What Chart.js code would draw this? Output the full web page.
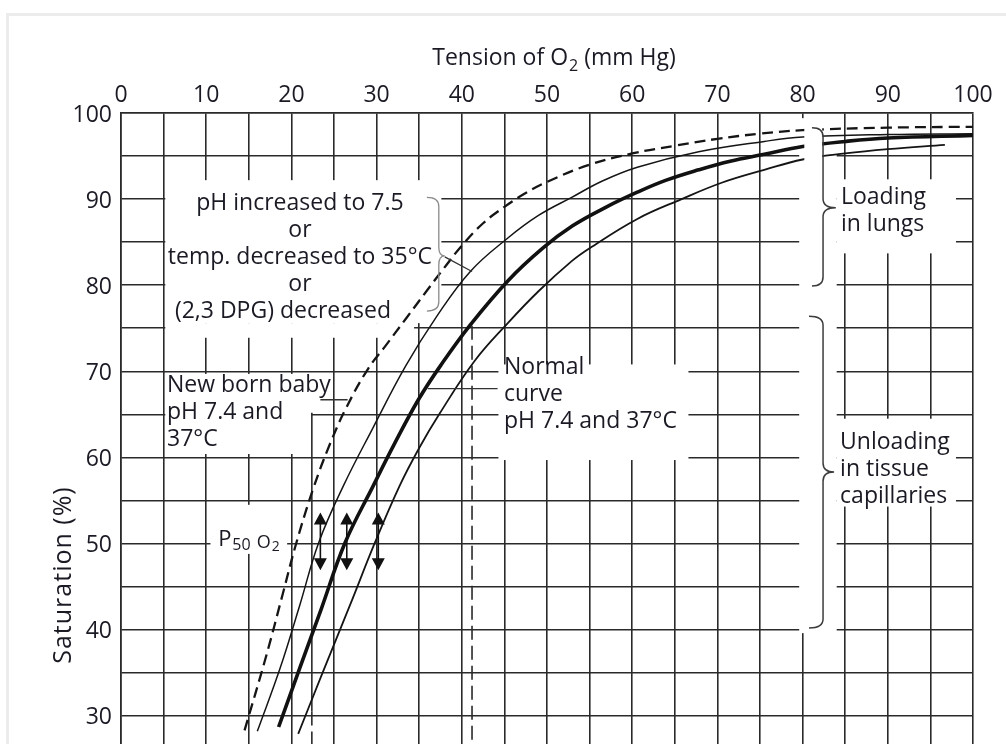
<!DOCTYPE html>
<html>
<head>
<meta charset="utf-8">
<script src="https://cdn.jsdelivr.net/npm/chart.js@4.4.1/dist/chart.umd.min.js"></script>
<style>
  html, body { margin: 0; padding: 0; background: #fff; overflow: hidden; }
  #page { position: relative; width: 1006px; height: 744px; overflow: hidden; }
  #frame { position: absolute; left: 6px; top: 13px; width: 1100px; height: 1100px; border: 3px solid #ececec; }
  #wrap { position: absolute; left: 0; top: 0; width: 1006px; height: 1040px; }
</style>
</head>
<body>
<div id="page">
  <div id="frame"></div>
  <div id="wrap"><canvas id="chart"></canvas></div>
</div>
<script>
// O2 tension (mm Hg) and saturation (%)
const newbornX = [14.5, 17, 19, 20.5, 22.5, 24.5, 26.5, 29, 31, 33.5, 36, 38, 40, 42.5, 45, 47.5, 50, 55, 60, 65, 70, 75, 80, 90, 100];
const newbornY = [28.3, 36.8, 44.2, 49.8, 56.2, 61.5, 65.9, 70.3, 72.9, 76.2, 79.5, 82.1, 84.6, 87.2, 89.1, 90.7, 92.0, 94.0, 95.3, 96.2, 97.0, 97.6, 98.0, 98.3, 98.4];

const leftShiftX = [16, 18.7, 21, 23.2, 26.1, 29.5, 33.4, 37, 41, 45.3, 49, 52.9, 56.5, 60.6, 67.8, 75.5, 80, 90, 100];
const leftShiftY = [28.2, 35.6, 42.9, 50.1, 56.7, 63.3, 70.6, 76.3, 81.6, 85.4, 88.1, 90.2, 92.1, 93.7, 95.5, 96.7, 97.2, 97.5, 97.6];

const normalX = [18.5, 21, 23.5, 26.3, 29.6, 32, 34.9, 37.6, 41, 45.4, 49.5, 53, 57, 60.6, 64, 67.8, 71.5, 75.5, 80, 85, 90, 100];
const normalY = [28.7, 35.6, 42.4, 50.1, 56.7, 61.4, 66.7, 70.8, 75.4, 80.5, 84.3, 86.9, 89.1, 90.8, 92.2, 93.4, 94.4, 95.2, 96.1, 96.7, 97.1, 97.4];

const rightShiftX = [20.8, 23.5, 26.9, 29.8, 32.7, 35, 37.4, 41.5, 45.4, 49, 52.9, 55, 60.6, 65.8, 70.5, 75.5, 80, 85, 90, 96.7];
const rightShiftY = [27.9, 34.6, 42.9, 50.1, 56.7, 61.1, 65.1, 71.2, 75.6, 79.3, 82.8, 84.3, 87.7, 90.0, 91.9, 93.4, 94.6, 95.3, 95.8, 96.3];

// P50 read from the double arrows
const p50 = [23.4, 26.5, 30.2];

const xTicks = [0, 10, 20, 30, 40, 50, 60, 70, 80, 90, 100];
const yTicks = [100, 90, 80, 70, 60, 50, 40, 30, 20, 10, 0];

const ink = '#1a1a24';
const gridInk = '#2a2a2a';
const family = '"Open Sans", "Noto Sans", sans-serif';

const pts = (xs, ys) => xs.map((v, i) => ({ x: v, y: ys[i] }));

// white areas that break the grid around labels and braces: [x0, x1, yTop, yBottom]
const blanks = [
  [5.2, 37.6, 92.2, 75.6],
  [5.2, 34.4, 75.6, 73.9],
  [5.2, 22.3, 69.7, 60.4],
  [22.3, 24.7, 69.7, 65.4],
  [10.5, 19.5, 54.5, 48.8],
  [44.3, 66.6, 70.8, 59.7],
  [79.6, 84.0, 99.4, 39.6],
  [84.0, 98.0, 92.3, 83.7],
  [84.0, 98.0, 64.5, 54.3]
];

const notes = [
  { x: 21.0, y: 88.7, align: 'center', lines: ['pH increased to 7.5', 'or', 'temp. decreased to 35°C', 'or', '(2,3 DPG) decreased'], shift: [0, 0, 0, 0, -17] },
  { x: 5.4, y: 67.6, align: 'left', lines: ['New born baby', 'pH 7.4 and', '37°C'] },
  { x: 44.95, y: 69.65, align: 'left', lines: ['Normal', 'curve', 'pH 7.4 and 37°C'] },
  { x: 84.5, y: 89.4, align: 'left', lines: ['Loading', 'in lungs'] },
  { x: 84.4, y: 61.0, align: 'left', lines: ['Unloading', 'in tissue', 'capillaries'] }
];

function brace(ctx, xl, xs, xt, yt, ym, yb) {
  const r = 9;
  ctx.beginPath();
  ctx.moveTo(xl, yt);
  ctx.quadraticCurveTo(xs, yt, xs, yt + r);
  ctx.lineTo(xs, ym - r);
  ctx.quadraticCurveTo(xs, ym, xt, ym);
  ctx.quadraticCurveTo(xs, ym, xs, ym + r);
  ctx.lineTo(xs, yb - r);
  ctx.quadraticCurveTo(xs, yb, xl, yb);
  ctx.stroke();
}

const annotations = {
  id: 'annotations',
  beforeDatasetsDraw(chart) {
    const { ctx, scales: { x, y } } = chart;
    const X = v => x.getPixelForValue(v), Y = v => y.getPixelForValue(v);
    ctx.save();
    ctx.fillStyle = '#fff';
    blanks.forEach(b => ctx.fillRect(X(b[0]), Y(b[2]), X(b[1]) - X(b[0]), Y(b[3]) - Y(b[2])));

    ctx.strokeStyle = gridInk;
    ctx.lineWidth = 1.6;
    // vertical line under the left P50, solid then dashed
    ctx.beginPath();
    ctx.moveTo(X(22.4), Y(65.2));
    ctx.lineTo(X(22.4), Y(30.5));
    ctx.stroke();
    ctx.setLineDash([14, 6]);
    ctx.beginPath();
    ctx.moveTo(X(22.4), Y(30.5));
    ctx.lineTo(X(22.4), Y(-5));
    ctx.moveTo(X(41.2), Y(75.3));
    ctx.lineTo(X(41.2), Y(-5));
    ctx.stroke();
    ctx.restore();
  },
  afterDatasetsDraw(chart) {
    const { ctx, chartArea, scales: { x, y } } = chart;
    const X = v => x.getPixelForValue(v), Y = v => y.getPixelForValue(v);
    ctx.save();

    // curves are broken where the brace sits
    ctx.fillStyle = '#fff';
    ctx.fillRect(X(80.2), Y(99.6), X(82.3) - X(80.2), Y(93.3) - Y(99.6));

    // braces
    ctx.strokeStyle = '#3c3c3c';
    ctx.lineWidth = 1.5;
    brace(ctx, X(81.1), X(82.4), X(83.9), Y(98.3), Y(89.0), Y(79.9));
    brace(ctx, X(80.75), X(82.4), X(83.7), Y(76.4), Y(58.3), Y(40.2));
    ctx.strokeStyle = '#8a8a8a';
    ctx.lineWidth = 1.3;
    brace(ctx, X(35.9), X(37.3), X(38.0), Y(90.2), Y(83.4), Y(77.0));

    // leader lines
    ctx.strokeStyle = '#333';
    ctx.lineWidth = 1.3;
    ctx.beginPath();
    ctx.moveTo(X(38.0), Y(83.3)); ctx.lineTo(X(41.2), Y(81.6));
    ctx.moveTo(X(23.4), Y(66.7)); ctx.lineTo(X(26.6), Y(66.7));
    ctx.moveTo(X(36.0), Y(68.0)); ctx.lineTo(X(44.2), Y(68.0));
    ctx.stroke();

    // P50 double arrows
    ctx.strokeStyle = '#111';
    ctx.fillStyle = '#111';
    ctx.lineWidth = 1.6;
    p50.forEach(v => {
      const px = X(v), top = Y(53.6), bot = Y(46.9);
      ctx.beginPath();
      ctx.moveTo(px, top + 8); ctx.lineTo(px, bot - 8);
      ctx.stroke();
      ctx.beginPath();
      ctx.moveTo(px, top); ctx.lineTo(px - 6.5, top + 12); ctx.lineTo(px + 6.5, top + 12); ctx.closePath();
      ctx.moveTo(px, bot); ctx.lineTo(px - 6.5, bot - 12); ctx.lineTo(px + 6.5, bot - 12); ctx.closePath();
      ctx.fill();
    });

    // text blocks
    ctx.fillStyle = ink;
    ctx.textBaseline = 'alphabetic';
    ctx.font = '23px ' + family;
    notes.forEach(n => {
      ctx.textAlign = n.align;
      n.lines.forEach((t, i) => {
        const dx = n.shift ? n.shift[i] : 0;
        ctx.fillText(t, X(n.x) + dx, Y(n.y) + i * 27);
      });
    });

    // P50 O2 label
    ctx.textAlign = 'left';
    let lx = X(11.4);
    const ly = Y(49.7);
    const part = (t, size, dy, gap) => {
      ctx.font = size + 'px ' + family;
      ctx.fillText(t, lx, ly + dy);
      lx += ctx.measureText(t).width + gap;
    };
    part('P', 22, 0, 1);
    part('50', 16, 4, 6);
    part('O', 18, 2, 1);
    part('2', 14, 5, 0);

    // top axis title with subscript
    const tY = chartArea.top - 48;
    ctx.font = '23px ' + family;
    const a = 'Tension of O', c = ' (mm Hg)';
    const wa = ctx.measureText(a).width, wc = ctx.measureText(c).width;
    ctx.font = '16px ' + family;
    const wb = ctx.measureText('2').width + 1;
    let tx = 554 - (wa + wb + wc) / 2;
    ctx.font = '23px ' + family;
    ctx.fillText(a, tx, tY);
    ctx.font = '16px ' + family;
    ctx.fillText('2', tx + wa + 1, tY + 6);
    ctx.font = '23px ' + family;
    ctx.fillText(c, tx + wa + wb, tY);

    // left axis title
    ctx.translate(64, 575);
    ctx.rotate(-Math.PI / 2);
    ctx.font = '25px ' + family;
    ctx.letterSpacing = '1px';
    ctx.textAlign = 'center';
    ctx.textBaseline = 'middle';
    ctx.fillText('Saturation (%)', 0, 0);
    ctx.restore();
  }
};

const ctx = document.getElementById('chart').getContext('2d');
new Chart(ctx, {
  type: 'line',
  data: {
    datasets: [
      { label: 'New born baby', data: pts(newbornX, newbornY), borderColor: '#151515', borderWidth: 2.3, borderDash: [11, 6] },
      { label: 'pH 7.5 / 35°C / low 2,3 DPG', data: pts(leftShiftX, leftShiftY), borderColor: '#151515', borderWidth: 1.5 },
      { label: 'Normal pH 7.4 and 37°C', data: pts(normalX, normalY), borderColor: '#111', borderWidth: 3.6 },
      { label: 'Right shifted', data: pts(rightShiftX, rightShiftY), borderColor: '#151515', borderWidth: 1.8 }
    ].map(d => Object.assign(d, { pointRadius: 0, fill: false, tension: 0.4 }))
  },
  options: {
    responsive: true,
    maintainAspectRatio: false,
    animation: false,
    layout: { padding: { left: 0, top: 0, right: 33, bottom: 13.5 } },
    plugins: { legend: { display: false }, tooltip: { enabled: false } },
    scales: {
      x: {
        type: 'linear', position: 'top', min: 0, max: 100,
        ticks: {
          stepSize: 5, autoSkip: false, maxRotation: 0, padding: 4, color: ink,
          font: { family: family, size: 23 },
          callback: v => xTicks.includes(v) ? v : ''
        },
        grid: { color: gridInk, lineWidth: 1.6, drawTicks: false },
        border: { color: gridInk, width: 1.6 },
        afterFit: s => { s.height = 113; }
      },
      y: {
        type: 'linear', min: -5, max: 100,
        ticks: {
          stepSize: 5, autoSkip: false, padding: 9, color: ink, labelOffset: 2,
          font: { family: family, size: 23 },
          callback: v => yTicks.includes(v) ? v : ''
        },
        grid: { color: gridInk, lineWidth: 1.6, drawTicks: false },
        border: { color: gridInk, width: 1.6 },
        afterFit: s => { s.width = 121; }
      }
    }
  },
  plugins: [annotations]
});
</script>
</body>
</html>
